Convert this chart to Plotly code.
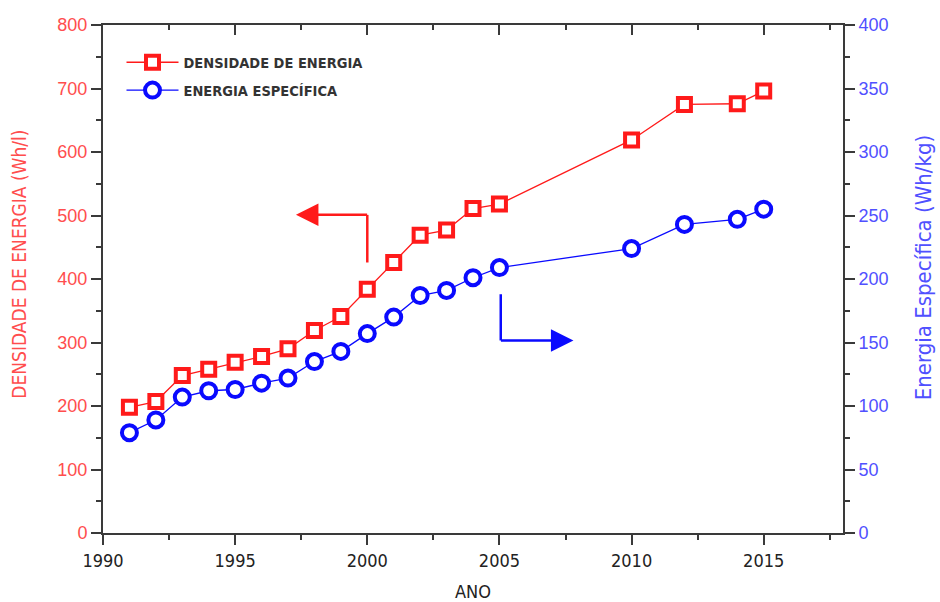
import plotly.graph_objects as go

# Battery evolution: volumetric energy density and specific energy by year
anos = [1991, 1992, 1993, 1994, 1995, 1996, 1997, 1998, 1999, 2000,
        2001, 2002, 2003, 2004, 2005, 2010, 2012, 2014, 2015]
densidade = [198, 207, 248, 258, 269, 278, 290, 319, 341, 384,
             426, 469, 477, 511, 518, 619, 675, 676, 696]
especifica = [79, 89, 107, 112, 113, 118, 122, 135, 143, 157,
              170, 187, 191, 201, 209, 224, 243, 247, 255]

RED = "#ff1a1a"
BLUE = "#0a0aff"
RED_TXT = "#ff4d4d"
BLUE_TXT = "#5050ff"
AXIS = "#3a3a3a"
FONT = "Liberation Sans"
NARROW = "DejaVu Sans Condensed"

fig = go.Figure()

fig.add_trace(go.Scatter(
    x=anos, y=densidade, name="DENSIDADE DE ENERGIA",
    mode="lines+markers", legendgroup="a",
    line=dict(color=RED, width=1.3),
    marker=dict(symbol="square", size=13, color="white",
                line=dict(color=RED, width=4)),
    yaxis="y", xaxis="x",
))
fig.add_trace(go.Scatter(
    x=anos, y=especifica, name="ENERGIA ESPECÍFICA",
    mode="lines+markers", legendgroup="b",
    line=dict(color=BLUE, width=1.3),
    marker=dict(symbol="circle", size=15, color="white",
                line=dict(color=BLUE, width=4)),
    yaxis="y2", xaxis="x",
))
# invisible trace so the top (mirror) axis is drawn with inward ticks
fig.add_trace(go.Scatter(x=[1990, 2018], y=[0, 0], xaxis="x2", yaxis="y",
                         mode="lines", line=dict(width=0), opacity=0,
                         showlegend=False, hoverinfo="skip"))

# L-shaped pointers indicating which axis each series belongs to
fig.add_shape(type="line", xref="x", yref="y", x0=2000, y0=426, x1=2000, y1=501,
              line=dict(color=RED, width=2.5))
fig.add_annotation(x=1997.3, y=501, ax=2000.05, ay=501, xref="x", yref="y",
                   axref="x", ayref="y", text="", showarrow=True,
                   arrowhead=2, arrowsize=1.8, arrowwidth=2.5, arrowcolor=RED)
fig.add_shape(type="line", xref="x", yref="y2", x0=2005.05, y0=188, x1=2005.05, y1=151.6,
              line=dict(color=BLUE, width=2.5))
fig.add_annotation(x=2007.8, y=151.6, ax=2005.0, ay=151.6, xref="x", yref="y2",
                   axref="x", ayref="y2", text="", showarrow=True,
                   arrowhead=2, arrowsize=1.8, arrowwidth=2.5, arrowcolor=BLUE)

# axis titles
fig.add_annotation(text="DENSIDADE DE ENERGIA (Wh/l)", textangle=-90,
                   xref="paper", yref="paper", x=-0.113, y=0.529,
                   xanchor="center", yanchor="middle", showarrow=False,
                   font=dict(family=NARROW, size=19, color=RED_TXT))
fig.add_annotation(text="Energia Específica (Wh/kg)", textangle=-90,
                   xref="paper", yref="paper", x=1.108, y=0.523,
                   xanchor="center", yanchor="middle", showarrow=False,
                   font=dict(family=NARROW, size=22, color=BLUE_TXT))
fig.add_annotation(text="ANO", xref="paper", yref="paper", x=0.5, y=-0.116,
                   xanchor="center", yanchor="middle", showarrow=False,
                   font=dict(family=NARROW, size=18, color="#222"))

fig.update_layout(
    width=940, height=602,
    margin=dict(l=103, r=97, t=25, b=69),
    paper_bgcolor="white", plot_bgcolor="white",
    font=dict(family=FONT, size=15, color="#222"),
    showlegend=True,
    legend=dict(x=0.025, y=0.958, xanchor="left", yanchor="top",
                bgcolor="rgba(0,0,0,0)", borderwidth=0,
                traceorder="grouped", tracegroupgap=6,
                font=dict(family=NARROW, size=14.5, color="#333", weight="bold"),
                itemwidth=52),
    xaxis=dict(
        range=[1990, 2018], tick0=1990, dtick=5, automargin=False,
        showgrid=False, zeroline=False,
        showline=True, linecolor=AXIS, linewidth=2,
        ticks="outside", ticklen=10, tickwidth=2, tickcolor=AXIS,
        minor=dict(ticks="outside", ticklen=5, tickwidth=2, tickcolor=AXIS, dtick=2.5, tick0=1990),
        tickfont=dict(family=NARROW, size=18, color="#222"),
    ),
    xaxis2=dict(
        range=[1990, 2018], tick0=1990, dtick=5, overlaying="x", side="top",
        anchor="y", automargin=False, showgrid=False, zeroline=False,
        showline=True, linecolor=AXIS, linewidth=2,
        ticks="inside", ticklen=10, tickwidth=2, tickcolor=AXIS,
        minor=dict(ticks="inside", ticklen=5, tickwidth=2, tickcolor=AXIS, dtick=2.5, tick0=1990),
        showticklabels=False,
    ),
    yaxis=dict(
        range=[0, 800], tick0=0, dtick=100, automargin=False,
        showgrid=False, zeroline=False,
        showline=True, linecolor=AXIS, linewidth=2,
        ticks="outside", ticklen=10, tickwidth=2, tickcolor=AXIS,
        minor=dict(ticks="outside", ticklen=5, tickwidth=2, tickcolor=AXIS, dtick=50),
        tickfont=dict(family=FONT, size=18, color=RED_TXT),
    ),
    yaxis2=dict(
        range=[0, 400], tick0=0, dtick=50, overlaying="y", side="right",
        anchor="x", automargin=False, showgrid=False, zeroline=False,
        showline=True, linecolor=AXIS, linewidth=2,
        ticks="outside", ticklen=10, tickwidth=2, tickcolor=AXIS,
        minor=dict(ticks="outside", ticklen=5, tickwidth=2, tickcolor=AXIS, dtick=25),
        tickfont=dict(family=FONT, size=18, color=BLUE_TXT),
    ),
)

fig.write_html("out.html")
